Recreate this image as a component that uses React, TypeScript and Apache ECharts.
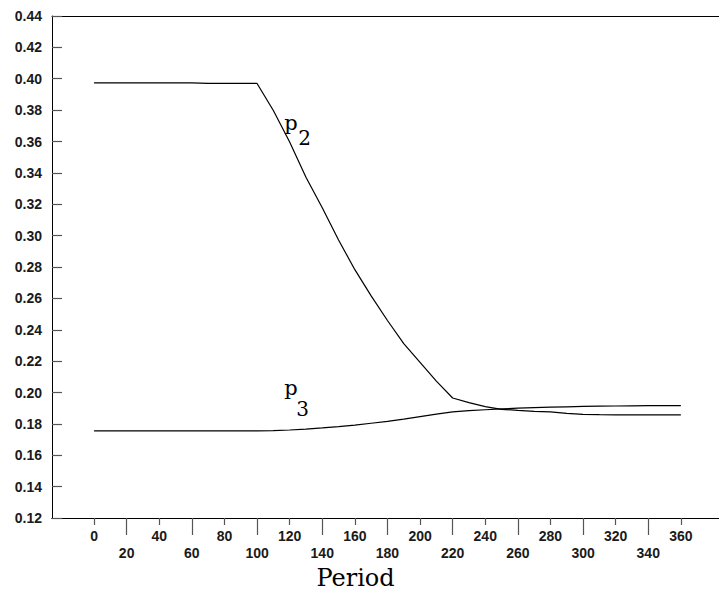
import React, { useEffect, useRef } from "react";
import * as echarts from "echarts";

const periods = [
  0, 10, 20, 30, 40, 50, 60, 70, 80, 90, 100, 110, 120, 130, 140, 150, 160, 170, 180,
  190, 200, 210, 220, 230, 240, 250, 260, 270, 280, 290, 300, 310, 320, 330, 340, 350, 360,
];

const p2Values = [
  0.3974, 0.3974, 0.3974, 0.3974, 0.3974, 0.3974, 0.3974, 0.397, 0.397, 0.397, 0.397,
  0.3798, 0.3597, 0.3372, 0.3178, 0.2972, 0.2783, 0.2616, 0.2459, 0.2311, 0.2192, 0.2073,
  0.1965, 0.1935, 0.191, 0.1893, 0.1886, 0.188, 0.1876, 0.1867, 0.1861, 0.1859, 0.1858,
  0.1857, 0.1857, 0.1857, 0.1857,
];

const p3Values = [
  0.1755, 0.1755, 0.1755, 0.1755, 0.1755, 0.1755, 0.1755, 0.1755, 0.1755, 0.1755, 0.1755,
  0.1757, 0.1761, 0.1767, 0.1774, 0.1782, 0.1792, 0.1804, 0.1816, 0.183, 0.1846, 0.1862,
  0.1876, 0.1884, 0.189, 0.1896, 0.19, 0.1904, 0.1907, 0.1909, 0.1911, 0.1913, 0.1914,
  0.1915, 0.1916, 0.1916, 0.1916,
];

const xTicksUpper = [0, 40, 80, 120, 160, 200, 240, 280, 320, 360];
const xTicksLower = [20, 60, 100, 140, 180, 220, 260, 300, 340];

const X_MIN = -25.8;
const X_MAX = 383.4;
const Y_MIN = 0.12;
const Y_MAX = 0.44;
const Y_STEP = 0.02;

const labelFont = {
  fontFamily: "Liberation Sans",
  fontSize: 14,
  fontWeight: "bold" as const,
  color: "#1a1a1a",
};

const SERIF = "'DejaVu Serif'";

export default function App() {
  const ref = useRef<HTMLDivElement>(null);

  useEffect(() => {
    if (!ref.current) return;
    const chart = echarts.init(ref.current, null, { renderer: "svg" });
    const baseX = {
      type: "value" as const,
      min: X_MIN,
      max: X_MAX,
      gridIndex: 0,
      splitLine: { show: false },
      axisLine: { show: true, onZero: false, lineStyle: { color: "#000", width: 1 } },
    };
    const serifText = (text: string, x: number, y: number, size: number) => ({
      type: "text" as const,
      x,
      y,
      style: {
        text,
        font: `${size}px ${SERIF}`,
        fill: "#000",
        align: "center",
        verticalAlign: "middle",
      },
    });
    chart.setOption({
      animation: false,
      backgroundColor: "#fff",
      grid: { left: 52, top: 16, bottom: 74, right: 0, containLabel: false },
      xAxis: [
        {
          ...baseX,
          position: "bottom",
          axisTick: {
            show: true,
            customValues: xTicksUpper,
            length: 7,
            lineStyle: { color: "#555", width: 1.2 },
          },
          axisLabel: { ...labelFont, customValues: xTicksUpper, margin: 11 },
        },
        {
          ...baseX,
          position: "bottom",
          axisTick: {
            show: true,
            customValues: xTicksLower,
            length: 17,
            lineStyle: { color: "#555", width: 1.2 },
          },
          axisLabel: { ...labelFont, customValues: xTicksLower, margin: 28 },
        },
        {
          ...baseX,
          position: "top",
          axisTick: { show: false },
          axisLabel: { show: false },
        },
      ],
      yAxis: {
        type: "value",
        min: Y_MIN,
        max: Y_MAX,
        interval: Y_STEP,
        splitLine: { show: false },
        axisLine: { show: true, onZero: false, lineStyle: { color: "#000", width: 1 } },
        axisTick: { show: true, inside: true, length: 10, lineStyle: { color: "#555", width: 1.2 } },
        axisLabel: {
          ...labelFont,
          margin: 10,
          showMinLabel: true,
          showMaxLabel: true,
          formatter: (v: number) => v.toFixed(2),
        },
      },
      series: [
        {
          name: "p2",
          type: "line",
          xAxisIndex: 0,
          data: periods.map((p, i) => [p, p2Values[i]]),
          showSymbol: false,
          lineStyle: { color: "#000", width: 1.2 },
        },
        {
          name: "p3",
          type: "line",
          xAxisIndex: 0,
          data: periods.map((p, i) => [p, p3Values[i]]),
          showSymbol: false,
          lineStyle: { color: "#000", width: 1.2 },
        },
      ],
      graphic: [
        serifText("Period", 355.5, 578, 24),
        serifText("p", 291, 123, 21),
        serifText("2", 304.5, 137.5, 20),
        serifText("p", 291, 388, 21),
        serifText("3", 302.5, 409, 20),
      ],
    });
    return () => chart.dispose();
  }, []);

  return (
    <div
      ref={ref}
      style={{ position: "absolute", left: 0, top: 0, width: 719, height: 592, background: "#fff" }}
    />
  );
}
